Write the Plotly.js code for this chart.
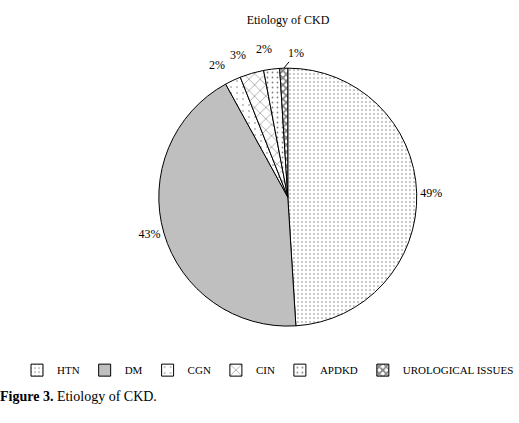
<!DOCTYPE html>
<html>
<head>
<meta charset="utf-8">
<script src="https://cdn.plot.ly/plotly-3.0.1.min.js"></script>
<style>html,body{margin:0;padding:0;background:#fff;}</style>
</head>
<body>
<div id="chart" style="width:519px;height:423px;"></div>
<script>
const categories = ["HTN", "DM", "CGN", "CIN", "APDKD", "UROLOGICAL ISSUES"];
const values = [49, 43, 2, 3, 2, 1];
const labelsText = ["49%", "43%", "2%", "3%", "2%", "1%"];

// styling (not data)
const W = 519, H = 423;
const domX = [0.306, 0.803], domY = [0.229, 0.839];
const patternShapes = [".", "+", ".", "x", ".", "x"];
const patternSizes = [4, 2, 6, 8, 5, 5];
const patternSolidity = [0.12, 0.5, 0.06, 0.14, 0.1, 0.55];
const textPos = ["outside", "outside", "none", "none", "none", "none"];
const labelNudgeDeg = [0, 0, -3, -3, -2, 5];
const labelGapPx = 21;
const leader = [false, false, false, false, false, true];

const trace = {
  type: "pie",
  labels: categories,
  values: values,
  text: labelsText,
  textinfo: "text",
  textposition: textPos,
  sort: false,
  direction: "clockwise",
  rotation: 0,
  domain: {x: domX, y: domY},
  outsidetextfont: {family: "Liberation Serif", size: 12, color: "#000"},
  marker: {
    colors: ["#fff", "#fff", "#fff", "#fff", "#fff", "#fff"],
    line: {color: "#000", width: 1},
    pattern: {
      shape: patternShapes,
      size: patternSizes,
      solidity: patternSolidity,
      fgcolor: "#000",
      bgcolor: "#fff",
      fillmode: "overlay"
    }
  },
  showlegend: true
};

// labels for the small slices, positioned from the data's cumulative angles
const total = values.reduce((a, b) => a + b, 0);
const cxPx = (domX[0] + domX[1]) / 2 * W;
const cyPx = (1 - (domY[0] + domY[1]) / 2) * H;
const rPx = Math.min((domX[1] - domX[0]) * W, (domY[1] - domY[0]) * H) / 2;
const annotations = [];
let cum = 0;
values.forEach((v, i) => {
  const mid = (cum + v / 2) / total * 2 * Math.PI;
  cum += v;
  if (textPos[i] !== "none") return;
  const th = mid + labelNudgeDeg[i] * Math.PI / 180;
  const R = rPx + labelGapPx;
  const lx = cxPx + R * Math.sin(th), ly = cyPx - R * Math.cos(th);
  if (leader[i]) {
    const ex = cxPx + rPx * Math.sin(mid), ey = cyPx - rPx * Math.cos(mid);
    annotations.push({
      text: labelsText[i], xref: "paper", yref: "paper",
      x: ex / W, y: 1 - ey / H, ax: lx - ex, ay: ly - ey + 6,
      showarrow: true, arrowhead: 0, arrowwidth: 1, arrowcolor: "#000", standoff: 0,
      xanchor: "center", yanchor: "middle",
      font: {family: "Liberation Serif", size: 12, color: "#000"}
    });
  } else {
    annotations.push({
      text: labelsText[i], xref: "paper", yref: "paper",
      x: lx / W, y: 1 - ly / H, showarrow: false,
      xanchor: "center", yanchor: "middle",
      font: {family: "Liberation Serif", size: 12, color: "#000"}
    });
  }
});

annotations.push({
  text: "<b>Figure 3.</b> Etiology of CKD.",
  xref: "paper", yref: "paper", x: -0.004, y: 0.0615, xanchor: "left", yanchor: "middle",
  showarrow: false, font: {family: "Liberation Serif", size: 14, color: "#000"}
});

const layout = {
  width: W,
  height: H,
  margin: {l: 0, r: 0, t: 0, b: 0},
  paper_bgcolor: "#fff",
  font: {family: "Liberation Serif", size: 12, color: "#000"},
  title: {text: "Etiology of CKD", x: 0.555, xanchor: "center", y: 0.953, yanchor: "middle",
          font: {family: "Liberation Serif", size: 12, color: "#000"}},
  legend: {orientation: "h", x: 0.56, xanchor: "center", y: 0.125, yanchor: "middle",
           font: {family: "Liberation Serif", size: 11, color: "#000"}, itemwidth: 30,
           traceorder: "normal"},
  annotations: annotations
};

Plotly.newPlot("chart", [trace], layout, {displayModeBar: false, staticPlot: true});
</script>
</body>
</html>
